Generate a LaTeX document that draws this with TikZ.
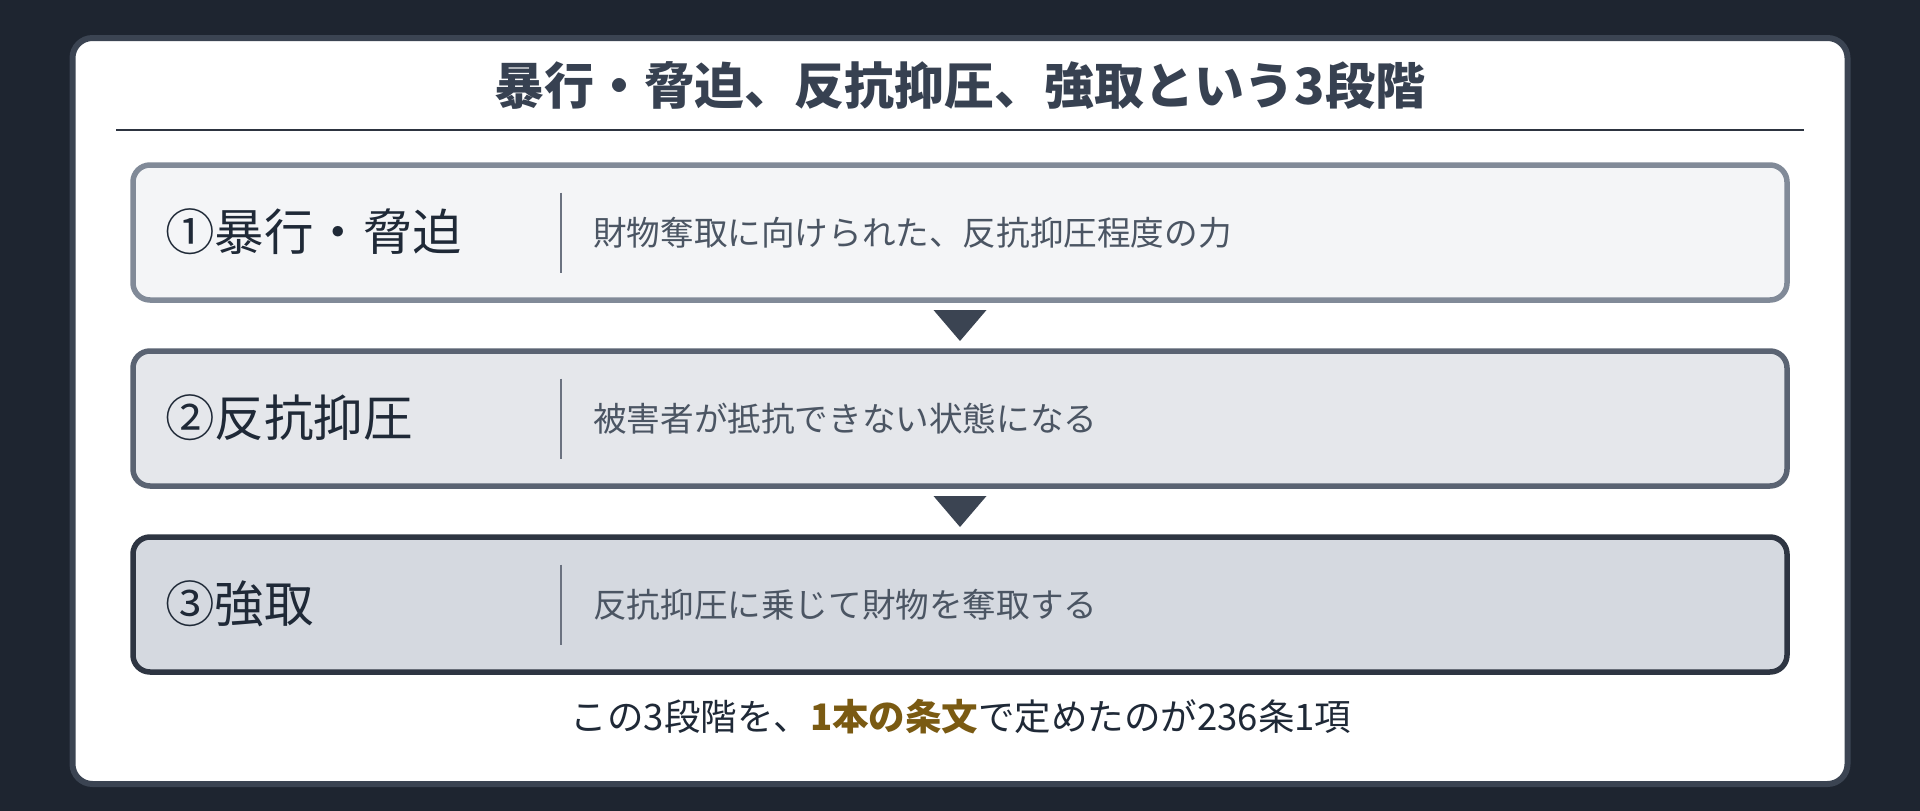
\documentclass[tikz,border=0pt]{standalone}
\usepackage{fontspec}
\usepackage{xcolor}
\setmainfont{Noto Sans CJK JP}
\usetikzlibrary{calc}
\definecolor{pagebg}{HTML}{1E2530}
\definecolor{cardline}{HTML}{3B4452}
\definecolor{titletext}{HTML}{374151}
\definecolor{ruleline}{HTML}{2D3440}
\definecolor{labeltext}{HTML}{1F2937}
\definecolor{desctext}{HTML}{4B5563}
\definecolor{divline}{HTML}{6B7280}
\definecolor{sonefill}{HTML}{F4F5F7}
\definecolor{soneline}{HTML}{818A98}
\definecolor{stwofill}{HTML}{E5E7EB}
\definecolor{stwoline}{HTML}{5A6372}
\definecolor{sthreefill}{HTML}{D5D9E0}
\definecolor{sthreeline}{HTML}{2E3542}
\definecolor{keygold}{HTML}{7A5A12}

\begin{document}
\begin{tikzpicture}[x=1pt,y=-1pt,
  stagebox/.style={rounded corners=17pt,line width=5.5pt,minimum width=1654pt,minimum height=135pt,inner sep=0pt},
  stagelabel/.style={anchor=west,inner sep=0pt,text=labeltext,font=\fontsize{49.5}{49.5}\selectfont},
  stagedesc/.style={anchor=west,inner sep=0pt,text=desctext,font=\fontsize{33.6}{33.6}\selectfont},
  divider/.style={draw=divline,line width=2.5pt},
  stepmark/.style={fill=cardline}]
\fill[pagebg] (0,0) rectangle (1920,811);
\useasboundingbox (0,0) rectangle (1920,811);
\filldraw[fill=white,draw=cardline,line width=6pt,rounded corners=20pt] (72.5,38) rectangle (1847.5,784);
% title
\node[inner sep=0pt,text=titletext,font=\fontsize{50}{50}\selectfont\bfseries] (title) at (960,86) {暴行・脅迫、反抗抑圧、強取という3段階};
\draw[line width=2pt,draw=ruleline] (116,130) -- (1804,130);
% stages
\node[stagebox,fill=sonefill,draw=soneline] (s1) at (960,232.5) {};
\node[stagebox,fill=stwofill,draw=stwoline] (s2) at (960,418.5) {};
\node[stagebox,fill=sthreefill,draw=sthreeline] (s3) at (960,604.5) {};
\node[stagelabel] (s1name) at ($(s1.center)+(-795,-1)$) {①暴行・脅迫};
\node[stagelabel] (s2name) at ($(s2.center)+(-795,-1)$) {②反抗抑圧};
\node[stagelabel] (s3name) at ($(s3.center)+(-795,-1)$) {③強取};
\draw[divider] ($(s1.center)+(-399,-40)$) -- ($(s1.center)+(-399,40)$);
\draw[divider] ($(s2.center)+(-399,-40)$) -- ($(s2.center)+(-399,40)$);
\draw[divider] ($(s3.center)+(-399,-40)$) -- ($(s3.center)+(-399,40)$);
\node[stagedesc] (s1text) at ($(s1.center)+(-367,0)$) {財物奪取に向けられた、反抗抑圧程度の力};
\node[stagedesc] (s2text) at ($(s2.center)+(-367,0)$) {被害者が抵抗できない状態になる};
\node[stagedesc] (s3text) at ($(s3.center)+(-367,0)$) {反抗抑圧に乗じて財物を奪取する};
% arrows between stages
\coordinate (m12) at ($(s1.south)!0.5!(s2.north)$);
\coordinate (m23) at ($(s2.south)!0.5!(s3.north)$);
\fill[stepmark] ($(m12)+(-26.5,-15.5)$) -- ($(m12)+(26.5,-15.5)$) -- ($(m12)+(0,15.5)$) -- cycle;
\fill[stepmark] ($(m23)+(-26.5,-15.5)$) -- ($(m23)+(26.5,-15.5)$) -- ($(m23)+(0,15.5)$) -- cycle;
% note
\node[inner sep=0pt,text=labeltext,font=\fontsize{36.5}{36.5}\selectfont] (note) at (961,717) {この3段階を、\textcolor{keygold}{\bfseries 1本の条文}で定めたのが236条1項};
\end{tikzpicture}
\end{document}
